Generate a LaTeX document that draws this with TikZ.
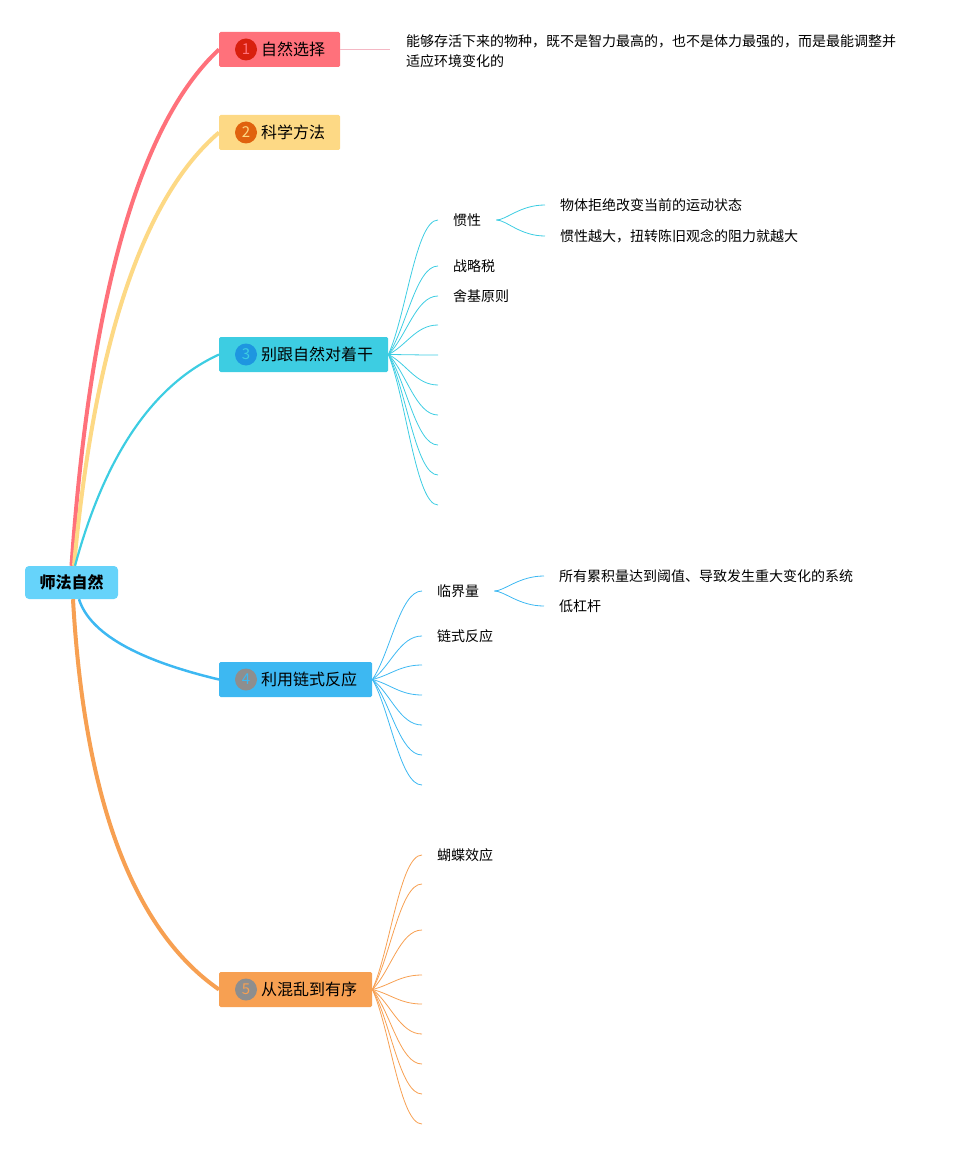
\documentclass[tikz,border=0pt]{standalone}
\usepackage{fontspec}
\setmainfont{Noto Sans CJK SC}
\usetikzlibrary{positioning}

\definecolor{rootblue}{HTML}{66D3FA}
\definecolor{redbr}{HTML}{FF717B}
\definecolor{redcirc}{HTML}{D8200E}
\definecolor{yelbr}{HTML}{FDD985}
\definecolor{yelcirc}{HTML}{E0620E}
\definecolor{cyanbr}{HTML}{3DCDE2}
\definecolor{cyancirc}{HTML}{1E96E0}
\definecolor{bluebr}{HTML}{3DB8F2}
\definecolor{orgbr}{HTML}{F7A052}
\definecolor{graycirc}{HTML}{8E8E8E}
\definecolor{pinkline}{HTML}{F4B8C4}

\tikzset{
    topic/.style={anchor=west, minimum height=35pt, inner xsep=15pt, inner ysep=0pt,
        rounded corners=1.5pt, font=\fontsize{16}{16}\selectfont, text=black},
    numdot/.style={circle, minimum size=22pt, inner sep=0pt, font=\fontsize{15}{15}\selectfont},
    leaf/.style={anchor=west, inner xsep=15pt, inner ysep=2pt,
        font=\fontsize{14}{19.5}\selectfont, align=left},
    twig/.style={line width=0.8pt},
}

\begin{document}
\begin{tikzpicture}[x=1pt, y=-1pt]
        \useasboundingbox (0,0) rectangle (965,1150);

        % central topic
        \node[fill=rootblue, rounded corners=4pt, minimum height=33pt, inner xsep=14.5pt,
            font=\fontsize{16}{16}\selectfont\bfseries] (root) at (71.5,582.5) {师法自然};

        % main branches
        \node[topic, fill=redbr] (b1) at (219,49.5) {\hspace*{27pt}自然选择};
        \node[topic, fill=yelbr] (b2) at (219,132.5) {\hspace*{27pt}科学方法};
        \node[topic, fill=cyanbr] (b3) at (219,354.5) {\hspace*{27pt}别跟自然对着干};
        \node[topic, fill=bluebr] (b4) at (219,679.5) {\hspace*{27pt}利用链式反应};
        \node[topic, fill=orgbr] (b5) at (219,989.5) {\hspace*{27pt}从混乱到有序};

        \node[numdot, fill=redcirc, text=redbr] (n1) at ([xshift=27pt]b1.west) {1};
        \node[numdot, fill=yelcirc, text=yelbr] (n2) at ([xshift=27pt]b2.west) {2};
        \node[numdot, fill=cyancirc, text=cyanbr] (n3) at ([xshift=27pt]b3.west) {3};
        \node[numdot, fill=graycirc, text=bluebr] (n4) at ([xshift=27pt]b4.west) {4};
        \node[numdot, fill=graycirc, text=orgbr] (n5) at ([xshift=27pt]b5.west) {5};

        \draw[redbr, line width=4pt] (root.north) .. controls (90.5,295.3) and (139.7,123.2) .. (b1.west);
        \draw[yelbr, line width=4pt] ([xshift=2.5pt]root.north) .. controls (94.7,342) and (143,197.5) .. (b2.west);
        \draw[cyanbr, line width=2.2pt] ([xshift=3.5pt]root.north) .. controls (105,455.3) and (153,384.8) .. (b3.west);
        \draw[bluebr, line width=2.5pt] ([xshift=7.5pt]root.south) .. controls (89.7,633) and (136.3,659.8) .. (b4.west);
        \draw[orgbr, line width=4pt] ([xshift=1.5pt]root.south) .. controls (84.3,799.7) and (133,929.8) .. (b5.west);

        % branch 1
        \node[leaf, inner xsep=16pt] (l1) at (390,51) {能够存活下来的物种，既不是智力最高的，也不是体力最强的，而是最能调整并\\适应环境变化的};
        \draw[twig, pinkline] (b1.east) -- (l1.west |- b1.east);

        % branch 3
        \node[leaf] (l3a) at (438,220) {惯性};
        \node[leaf] (l3b) at (438,266) {战略税};
        \node[leaf] (l3c) at (438,296) {舍基原则};
        \foreach \y [count=\i] in {325,355,...,505}
            \coordinate (l3e\i) at (438,\y);
        \foreach \y/\t in {220/l3a.west, 266/l3b.west, 296/l3c.west, 325/l3e1, 355/l3e2,
                385/l3e3, 415/l3e4, 445/l3e5, 475/l3e6, 505/l3e7}
            \draw[twig, cyanbr] (b3.east) .. controls +(18,{0.3*(\y-354.5)}) and +(-22,0) .. (\t);

        \node[leaf] (l3a1) at (545,205) {物体拒绝改变当前的运动状态};
        \node[leaf] (l3a2) at (545,236) {惯性越大，扭转陈旧观念的阻力就越大};
        \foreach \t in {l3a1, l3a2}
            \draw[twig, cyanbr] (l3a.east) .. controls +(10,0) and +(-25,0) .. (\t.west);

        % branch 4
        \node[leaf] (l4a) at (422,591) {临界量};
        \node[leaf] (l4b) at (422,636) {链式反应};
        \foreach \y [count=\i] in {665,695,...,785}
            \coordinate (l4e\i) at (422,\y);
        \foreach \y/\t in {591/l4a.west, 636/l4b.west, 665/l4e1, 695/l4e2, 725/l4e3, 755/l4e4, 785/l4e5}
            \draw[twig, bluebr] (b4.east) .. controls +(18,{0.3*(\y-679.5)}) and +(-22,0) .. (\t);

        \node[leaf] (l4a1) at (544,576) {所有累积量达到阈值、导致发生重大变化的系统};
        \node[leaf] (l4a2) at (544,606) {低杠杆};
        \foreach \t in {l4a1, l4a2}
            \draw[twig, bluebr] (l4a.east) .. controls +(10,0) and +(-25,0) .. (\t.west);

        % branch 5
        \node[leaf] (l5a) at (422,855) {蝴蝶效应};
        \foreach \y [count=\i] in {884,930,975,1004,1034,1064,1094,1124}
            \coordinate (l5e\i) at (422,\y);
        \foreach \y/\t in {855/l5a.west, 884/l5e1, 930/l5e2, 975/l5e3, 1004/l5e4,
                1034/l5e5, 1064/l5e6, 1094/l5e7, 1124/l5e8}
            \draw[twig, orgbr] (b5.east) .. controls +(18,{0.3*(\y-989.5)}) and +(-22,0) .. (\t);
\end{tikzpicture}
\end{document}
